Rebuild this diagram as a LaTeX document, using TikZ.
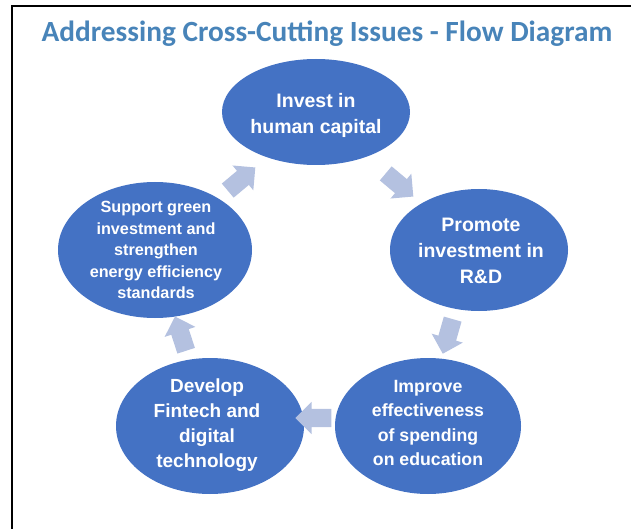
\documentclass[tikz,border=0pt]{standalone}
\usepackage{fontspec}
\setmainfont{Liberation Sans}
\newfontfamily\titlefont{Carlito}
\usetikzlibrary{shapes.geometric,shapes.arrows}

\definecolor{bubbleblue}{RGB}{68,114,196}
\definecolor{arrowblue}{RGB}{180,193,224}
\definecolor{titleblue}{RGB}{72,132,185}

\tikzset{
  bubble/.style={ellipse, fill=bubbleblue, draw=none, inner sep=0pt},
  bubbletext/.style={text=white, align=center, inner sep=0pt},
  cyclearrow/.style={single arrow, fill=arrowblue, draw=none, inner xsep=0pt, inner ysep=9pt,
    minimum height=36pt, single arrow head extend=7pt}
}

\begin{document}
\begin{tikzpicture}[x=1pt,y=-1pt]
\useasboundingbox (0,0) rectangle (631,529);

	% frame
	\draw[line width=1.5pt] (11,6) -- (631,6);
	\draw[line width=1.4pt] (12,6) -- (12,529);

	\node[anchor=base, text=titleblue, inner sep=0pt,
	  font=\titlefont\bfseries\fontsize{29.3}{34}\selectfont] (title) at (327,42)
	  {Addressing Cross-Cutting Issues - Flow Diagram};

	% the five stages
	\node[bubble, minimum width=188pt, minimum height=106pt] (capital) at (316,112) {};
	\node[bubble, minimum width=178pt, minimum height=122pt] (research) at (479,250) {};
	\node[bubble, minimum width=186pt, minimum height=136pt] (education) at (428,426) {};
	\node[bubble, minimum width=188pt, minimum height=136pt] (fintech) at (210,426) {};
	\node[bubble, minimum width=194pt, minimum height=136pt] (green) at (155,250) {};

	\node[bubbletext, font=\bfseries\fontsize{19.5}{26}\selectfont] (capitaltext) at (316,115)
	  {Invest in\\human capital};
	\node[bubbletext, font=\bfseries\fontsize{19.5}{26}\selectfont] (researchtext) at (481,251)
	  {Promote\\investment in\\R\&D};
	\node[bubbletext, font=\bfseries\fontsize{17.7}{24.5}\selectfont] (educationtext) at (428,423)
	  {Improve\\effectiveness\\of spending\\on education};
	\node[bubbletext, font=\bfseries\fontsize{19}{25}\selectfont] (fintechtext) at (207,425)
	  {Develop\\Fintech and\\digital\\technology};
	\node[bubbletext, font=\bfseries\fontsize{16.2}{21.5}\selectfont] (greentext) at (156,250)
	  {Support green\\investment and\\strengthen\\energy efficiency\\standards};

	% clockwise arrows
	\node[cyclearrow, rotate=40] (greentocapital) at (238,182) {};
	\node[cyclearrow, rotate=-40] (capitaltoresearch) at (396,182) {};
	\node[cyclearrow, rotate=-106] (researchtoeducation) at (449,332) {};
	\node[cyclearrow, rotate=180] (educationtofintech) at (318,418) {};
	\node[cyclearrow, rotate=108] (fintechtogreen) at (182,338) {};

\end{tikzpicture}
\end{document}
